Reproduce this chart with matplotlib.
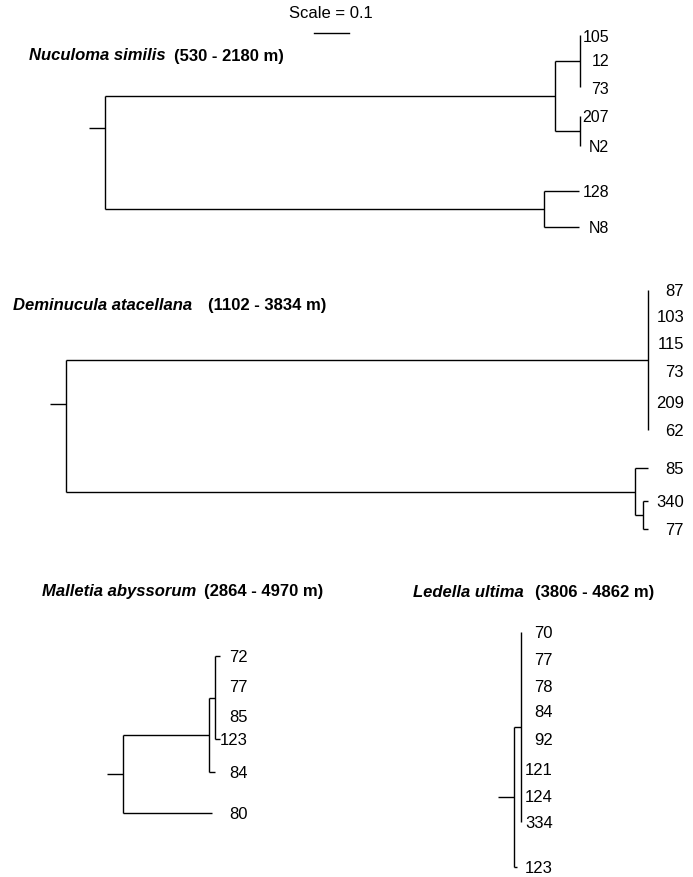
import matplotlib.pyplot as plt

plt.rcParams['font.family'] = ['Liberation Sans', 'DejaVu Sans']

# branch lengths (scale bar = 0.1)
# a node is (name, length) for a tip or (name, length, [children]) for a clade
NUCULOMA = ("", 0.0, [
    ("", 1.286, [
        ("", 0.071, [("105", 0.0), ("12", 0.0), ("73", 0.0)]),
        ("", 0.071, [("207", 0.0), ("N2", 0.0)]),
    ]),
    ("", 1.254, [("128", 0.1), ("N8", 0.1)]),
])

DEMINUCULA = ("", 0.0, [
    ("", 1.663, [("87", 0.0), ("103", 0.0), ("115", 0.0),
                 ("73", 0.0), ("209", 0.0), ("62", 0.0)]),
    ("", 1.626, [
        ("85", 0.037),
        ("", 0.023, [("340", 0.014), ("77", 0.014)]),
    ]),
])

MALLETIA = ("", 0.0, [
    ("", 0.246, [
        ("", 0.017, [("72", 0.014), ("77", 0.0), ("85", 0.0), ("123", 0.014)]),
        ("84", 0.017),
    ]),
    ("80", 0.254),
])

LEDELLA = ("", 0.0, [
    ("", 0.02, [("70", 0.0), ("77", 0.0), ("78", 0.0), ("84", 0.0),
                ("92", 0.0), ("121", 0.0), ("124", 0.0), ("334", 0.0)]),
    ("123", 0.009),
])

SPECIES = ["Nuculoma similis", "Deminucula atacellana",
           "Malletia abyssorum", "Ledella ultima"]
DEPTHS = ["(530 - 2180 m)", "(1102 - 3834 m)",
          "(2864 - 4970 m)", "(3806 - 4862 m)"]
TREES = [NUCULOMA, DEMINUCULA, MALLETIA, LEDELLA]

# drawing layout, in pixels of the 693x878 figure
PX = 350.0  # pixels per unit branch length
LAYOUT = [
    dict(root_x=105, tips=[36, 60, 88, 117, 147, 192, 228], pad=29, fs=11.5,
         title=(29, 56), gap=8, root="weighted"),
    dict(root_x=66, tips=[291, 317, 344, 372, 403, 431, 469, 502, 530], pad=36,
         fs=12, title=(13, 306), gap=16, root="weighted"),
    dict(root_x=123, tips=[657, 687, 717, 740, 773, 814], pad=28, fs=12,
         title=(42, 592), gap=8, root="mid"),
    dict(root_x=514, tips=[633, 660, 687, 712, 740, 770, 797, 823, 868], pad=32,
         fs=12, title=(413, 593), gap=11, root="mid"),
]
LW = 1.0


def place(node, x0, tip_y, segs, tips):
    # returns x, y and tip count of node; fills line segments and tip labels
    x = x0 + node[1] * PX
    if len(node) == 2:
        y = tip_y[len(tips)]
        tips.append((node[0], x, y))
        return x, y, 1
    kids = [place(c, x, tip_y, segs, tips) for c in node[2]]
    ys = [k[1] for k in kids]
    for kx, ky, _ in kids:
        if kx > x:
            segs.append(([x, kx], [ky, ky]))
    segs.append(([x, x], [min(ys), max(ys)]))
    n = sum(k[2] for k in kids)
    y = (ys[0] + ys[-1]) / 2
    return x, y, n


def draw_tree(ax, tree, lay, species, depth):
    segs, tips = [], []
    x0 = lay["root_x"]
    kids = [place(c, x0, lay["tips"], segs, tips) for c in tree[2]]
    for kx, ky, _ in kids:
        segs.append(([x0, kx], [ky, ky]))
    ys = [k[1] for k in kids]
    segs.append(([x0, x0], [min(ys), max(ys)]))
    if lay["root"] == "weighted":
        root_y = sum(k[1] * k[2] for k in kids) / sum(k[2] for k in kids)
    else:
        root_y = (ys[0] + ys[-1]) / 2
    segs.append(([x0 - 16, x0], [root_y, root_y]))
    for xs, yy in segs:
        ax.plot(xs, yy, color="black", lw=LW, solid_capstyle="butt")

    lab_x = max(t[1] for t in tips) + lay["pad"]
    for name, tx, ty in tips:
        ax.text(lab_x, ty + 1, name, ha="right", va="center", fontsize=lay["fs"])

    t = ax.text(lay["title"][0], lay["title"][1], species, ha="left", va="center",
                fontsize=12, fontweight="bold", fontstyle="italic")
    ax.annotate(depth, xy=(1, 0.5), xycoords=t, xytext=(lay["gap"], 0),
                textcoords="offset pixels", ha="left", va="center",
                fontsize=12, fontweight="bold")


fig = plt.figure(figsize=(6.93, 8.78), dpi=100)
ax = fig.add_axes([0, 0, 1, 1])
ax.set_xlim(0, 693)
ax.set_ylim(878, 0)
ax.axis("off")

# scale bar
ax.text(331, 14, "Scale = 0.1", ha="center", va="center", fontsize=12)
ax.plot([331 - 0.05 * PX, 331 + 0.05 * PX], [34, 34], color="black", lw=LW)

for tree, lay, sp, dp in zip(TREES, LAYOUT, SPECIES, DEPTHS):
    draw_tree(ax, tree, lay, sp, dp)

fig.savefig("out.png", dpi=100)
